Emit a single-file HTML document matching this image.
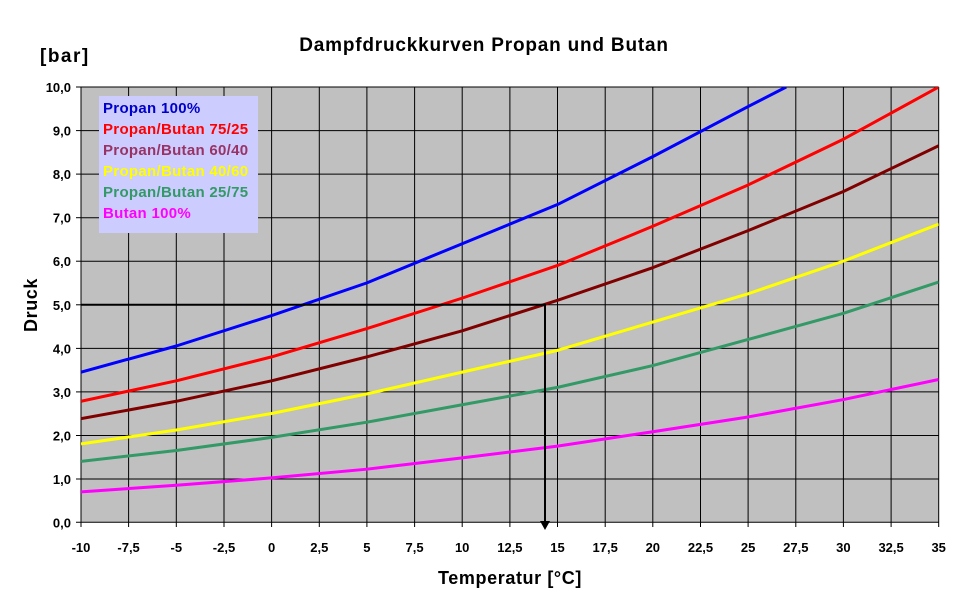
<!DOCTYPE html>
<html><head><meta charset="utf-8"><style>
body{margin:0;background:#fff;}
svg{display:block;font-family:"Liberation Sans",Arial,sans-serif;font-weight:bold;}
</style></head><body>
<svg width="970" height="604" viewBox="0 0 970 604">
<rect x="81" y="87" width="857.7" height="435.3" fill="#c0c0c0"/>
<g stroke="#000" stroke-width="1">
<line x1="81" y1="87" x2="938.7" y2="87"/>
<line x1="81" y1="130.6" x2="938.7" y2="130.6"/>
<line x1="81" y1="174.1" x2="938.7" y2="174.1"/>
<line x1="81" y1="217.7" x2="938.7" y2="217.7"/>
<line x1="81" y1="261.2" x2="938.7" y2="261.2"/>
<line x1="81" y1="304.8" x2="938.7" y2="304.8"/>
<line x1="81" y1="348.4" x2="938.7" y2="348.4"/>
<line x1="81" y1="391.9" x2="938.7" y2="391.9"/>
<line x1="81" y1="435.5" x2="938.7" y2="435.5"/>
<line x1="81" y1="479" x2="938.7" y2="479"/>
<line x1="76" y1="522.3" x2="938.7" y2="522.3"/>
<line x1="81" y1="87" x2="81" y2="527"/>
<line x1="128.6" y1="87" x2="128.6" y2="527"/>
<line x1="176.3" y1="87" x2="176.3" y2="527"/>
<line x1="224" y1="87" x2="224" y2="527"/>
<line x1="271.6" y1="87" x2="271.6" y2="527"/>
<line x1="319.3" y1="87" x2="319.3" y2="527"/>
<line x1="366.9" y1="87" x2="366.9" y2="527"/>
<line x1="414.6" y1="87" x2="414.6" y2="527"/>
<line x1="462.2" y1="87" x2="462.2" y2="527"/>
<line x1="509.9" y1="87" x2="509.9" y2="527"/>
<line x1="557.5" y1="87" x2="557.5" y2="527"/>
<line x1="605.2" y1="87" x2="605.2" y2="527"/>
<line x1="652.8" y1="87" x2="652.8" y2="527"/>
<line x1="700.5" y1="87" x2="700.5" y2="527"/>
<line x1="748.1" y1="87" x2="748.1" y2="527"/>
<line x1="795.8" y1="87" x2="795.8" y2="527"/>
<line x1="843.4" y1="87" x2="843.4" y2="527"/>
<line x1="891.1" y1="87" x2="891.1" y2="527"/>
<line x1="938.7" y1="87" x2="938.7" y2="527"/>
<line x1="76" y1="87" x2="81" y2="87"/><line x1="76" y1="130.6" x2="81" y2="130.6"/><line x1="76" y1="174.1" x2="81" y2="174.1"/><line x1="76" y1="217.7" x2="81" y2="217.7"/><line x1="76" y1="261.2" x2="81" y2="261.2"/><line x1="76" y1="304.8" x2="81" y2="304.8"/><line x1="76" y1="348.4" x2="81" y2="348.4"/><line x1="76" y1="391.9" x2="81" y2="391.9"/><line x1="76" y1="435.5" x2="81" y2="435.5"/><line x1="76" y1="479" x2="81" y2="479"/>
</g>
<svg x="81" y="87" width="857.7" height="435.3" viewBox="-10 -10 45 10" preserveAspectRatio="none" overflow="hidden">
<g fill="none" stroke-width="3" stroke-linejoin="round">
<polyline vector-effect="non-scaling-stroke" stroke="#0000ff" points="-10,-3.45 -5,-4.05 0,-4.75 5,-5.5 10,-6.4 15,-7.3 20,-8.4 25,-9.55 27,-10"/>
<polyline vector-effect="non-scaling-stroke" stroke="#ff0000" points="-10,-2.78 -5,-3.25 0,-3.8 5,-4.45 10,-5.15 15,-5.9 20,-6.8 25,-7.75 30,-8.8 35,-10"/>
<polyline vector-effect="non-scaling-stroke" stroke="#800000" points="-10,-2.38 -5,-2.78 0,-3.25 5,-3.8 10,-4.4 15,-5.1 20,-5.85 25,-6.7 30,-7.6 35,-8.65"/>
<polyline vector-effect="non-scaling-stroke" stroke="#ffff00" points="-10,-1.8 -5,-2.12 0,-2.5 5,-2.95 10,-3.45 15,-3.95 20,-4.6 25,-5.25 30,-6 35,-6.85"/>
<polyline vector-effect="non-scaling-stroke" stroke="#339966" points="-10,-1.4 -5,-1.65 0,-1.95 5,-2.3 10,-2.7 15,-3.1 20,-3.6 25,-4.2 30,-4.8 35,-5.52"/>
<polyline vector-effect="non-scaling-stroke" stroke="#ff00ff" points="-10,-0.7 -5,-0.85 0,-1.02 5,-1.22 10,-1.48 15,-1.75 20,-2.08 25,-2.42 30,-2.82 35,-3.28"/>
</g>
</svg>
<polyline points="81,304.8 545,304.8 545,522" fill="none" stroke="#000" stroke-width="2"/>
<polygon points="540,521 550,521 545,530" fill="#000"/>
<rect x="99" y="96" width="159" height="137" fill="#ccccff"/>
<g font-size="15" letter-spacing="0.3">
<text x="103" y="113" fill="#0000cc">Propan 100%</text>
<text x="103" y="134" fill="#ff0000">Propan/Butan 75/25</text>
<text x="103" y="155" fill="#993366">Propan/Butan 60/40</text>
<text x="103" y="176" fill="#ffff00">Propan/Butan 40/60</text>
<text x="103" y="197" fill="#339966">Propan/Butan 25/75</text>
<text x="103" y="218" fill="#ff00ff">Butan 100%</text>
</g>
<text x="484" y="51" font-size="19" letter-spacing="0.8" text-anchor="middle">Dampfdruckkurven Propan und Butan</text>
<text x="40" y="62" font-size="19" letter-spacing="1.5">[bar]</text>
<text x="510" y="584" font-size="18" letter-spacing="0.6" text-anchor="middle">Temperatur [°C]</text>
<text transform="translate(37,305) rotate(-90)" font-size="18" letter-spacing="0.6" text-anchor="middle">Druck</text>
<g font-size="13" text-anchor="end">
<text x="71" y="92">10,0</text><text x="71" y="135.6">9,0</text><text x="71" y="179.1">8,0</text><text x="71" y="222.7">7,0</text><text x="71" y="266.2">6,0</text><text x="71" y="309.8">5,0</text><text x="71" y="353.4">4,0</text><text x="71" y="396.9">3,0</text><text x="71" y="440.5">2,0</text><text x="71" y="484">1,0</text><text x="71" y="527.3">0,0</text>
</g>
<g font-size="13" text-anchor="middle">
<text x="81" y="552">-10</text><text x="128.6" y="552">-7,5</text><text x="176.3" y="552">-5</text><text x="224" y="552">-2,5</text><text x="271.6" y="552">0</text><text x="319.3" y="552">2,5</text><text x="366.9" y="552">5</text><text x="414.6" y="552">7,5</text><text x="462.2" y="552">10</text><text x="509.9" y="552">12,5</text><text x="557.5" y="552">15</text><text x="605.2" y="552">17,5</text><text x="652.8" y="552">20</text><text x="700.5" y="552">22,5</text><text x="748.1" y="552">25</text><text x="795.8" y="552">27,5</text><text x="843.4" y="552">30</text><text x="891.1" y="552">32,5</text><text x="938.7" y="552">35</text>
</g>
</svg>
</body></html>
